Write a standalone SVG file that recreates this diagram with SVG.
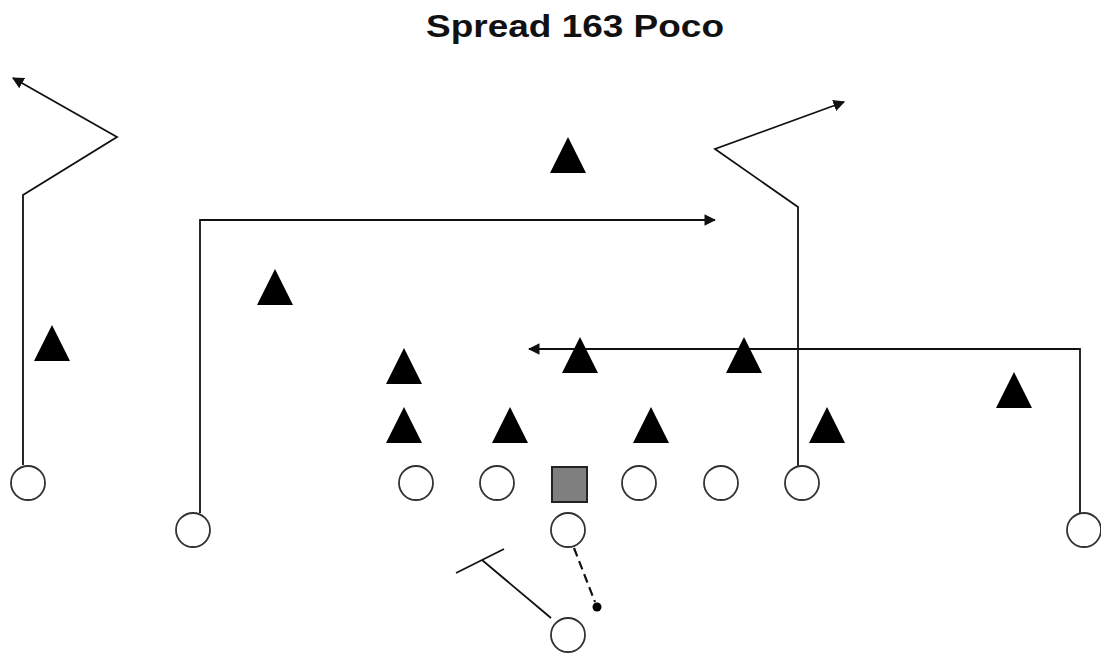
<svg xmlns="http://www.w3.org/2000/svg" width="1101" height="656" viewBox="0 0 1101 656">
<defs>
<style>
.title{font-family:"Liberation Sans",Arial,sans-serif;font-size:32px;font-weight:bold;fill:#111}
.off{fill:#fff;stroke:#333;stroke-width:1.8}
.ctr{fill:#7f7f7f;stroke:#222;stroke-width:2}
.def{fill:#000}
.route{fill:none;stroke:#111;stroke-width:1.8}
.dash{fill:none;stroke:#111;stroke-width:2.2;stroke-dasharray:9,5}
</style>
<marker id="arr" viewBox="0 0 10 10" refX="9" refY="5" markerWidth="6.5" markerHeight="6.5" markerUnits="strokeWidth" orient="auto">
<path d="M0,0 L10,5 L0,10 z" fill="#111"/>
</marker>
<path id="tri" d="M0,-18 L18,18 L-18,18 z"/>
</defs>
<rect width="1101" height="656" fill="#fff"/>
<text class="title" x="575" y="37" text-anchor="middle" textLength="298" lengthAdjust="spacingAndGlyphs">Spread 163 Poco</text>

<g id="connectors">
<polyline class="route" points="23,465 23,195 117,137 13,78" marker-end="url(#arr)"/>
<polyline class="route" points="200,513 200,220 715,220" marker-end="url(#arr)"/>
<polyline class="route" points="798,466 798,207 715,149 844,102" marker-end="url(#arr)"/>
<polyline class="route" points="1080,513 1080,349 529,349" marker-end="url(#arr)"/>
<line class="dash" x1="574" y1="548" x2="595" y2="602"/>
<circle cx="597" cy="607" r="4.5" fill="#000"/>
<line class="route" x1="551" y1="618" x2="482" y2="560"/>
<line class="route" x1="456" y1="573" x2="504" y2="549"/>
</g>

<g id="defense">
<g id="d1"><use href="#tri" x="568" y="155" class="def"/></g>
<g id="d2"><use href="#tri" x="275" y="287" class="def"/></g>
<g id="d3"><use href="#tri" x="52" y="343" class="def"/></g>
<g id="d4"><use href="#tri" x="404" y="366" class="def"/></g>
<g id="d5"><use href="#tri" x="580" y="355" class="def"/></g>
<g id="d6"><use href="#tri" x="744" y="355" class="def"/></g>
<g id="d7"><use href="#tri" x="1014" y="390" class="def"/></g>
<g id="d8"><use href="#tri" x="404" y="425" class="def"/></g>
<g id="d9"><use href="#tri" x="510" y="425" class="def"/></g>
<g id="d10"><use href="#tri" x="651" y="425" class="def"/></g>
<g id="d11"><use href="#tri" x="827" y="425" class="def"/></g>
</g>

<g id="offense">
<g id="wr-left"><circle class="off" cx="28" cy="483" r="17"/></g>
<g id="wr-slot-left"><circle class="off" cx="193" cy="530" r="17"/></g>
<g id="lt"><circle class="off" cx="416" cy="483" r="17"/></g>
<g id="lg"><circle class="off" cx="497" cy="483" r="17"/></g>
<g id="center"><rect class="ctr" x="552" y="467" width="35" height="35"/></g>
<g id="rg"><circle class="off" cx="639" cy="483" r="17"/></g>
<g id="rt"><circle class="off" cx="721" cy="483" r="17"/></g>
<g id="te"><circle class="off" cx="802" cy="483" r="17"/></g>
<g id="wr-right"><circle class="off" cx="1084" cy="530" r="17"/></g>
<g id="qb"><circle class="off" cx="568" cy="530" r="17"/></g>
<g id="rb"><circle class="off" cx="568" cy="635" r="17"/></g>
</g>
</svg>
